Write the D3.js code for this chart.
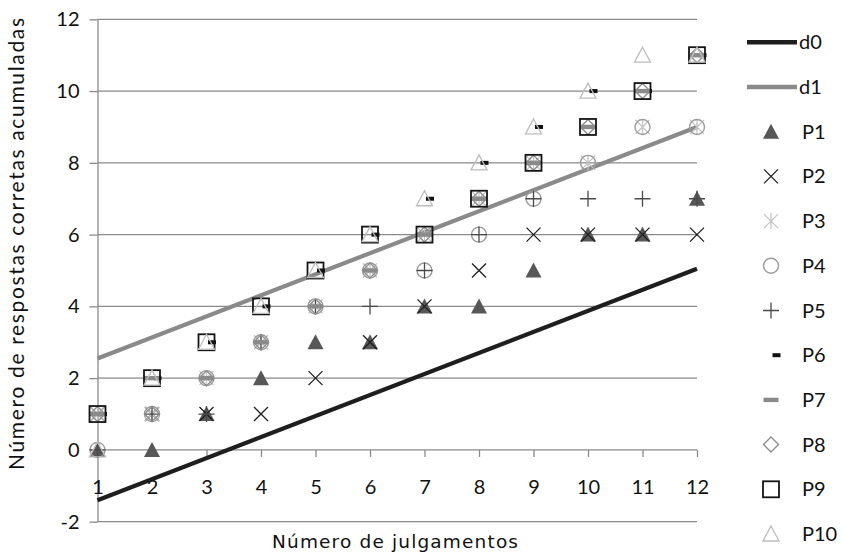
<!DOCTYPE html>
<html><head><meta charset="utf-8">
<script src="https://cdn.jsdelivr.net/npm/d3@7"></script>
<style>body{margin:0;background:#fff}svg{display:block}</style>
</head><body>
<svg id="c" width="842" height="554"></svg>
<script>
const trials = [1,2,3,4,5,6,7,8,9,10,11,12];
const yTicks = [-2,0,2,4,6,8,10,12];
const lineX = [1,12];
const d0 = [-1.4, 5.05];
const d1 = [2.55, 9.0];
const P1  = [0,0,1,2,3,3,4,4,5,6,6,7];
const P2  = [1,1,1,1,2,3,4,5,6,6,6,6];
const P3  = [1,1,2,3,4,5,6,7,8,8,9,9];
const P4  = [0,1,2,3,4,5,5,6,7,8,9,9];
const P5  = [0,1,1,3,4,4,5,6,7,7,7,7];
const P6  = [1,2,3,4,5,6,7,8,9,10,10,11];
const P7  = [1,2,2,3,4,5,6,7,8,9,10,11];
const P8  = [1,1,2,3,4,5,6,7,8,9,10,11];
const P9  = [1,2,3,4,5,6,6,7,8,9,10,11];
const P10 = [0,2,3,4,5,6,7,8,9,10,11,11];
const xTitle = "Número de julgamentos";
const yTitle = "Número de respostas corretas acumuladas";

const series = [
  {name:"P1", values:P1, shape:"triFill", color:"#575757"},
  {name:"P2", values:P2, shape:"x", color:"#1e1e1e"},
  {name:"P3", values:P3, shape:"star", color:"#c4c4c4"},
  {name:"P4", values:P4, shape:"circle", color:"#9c9c9c"},
  {name:"P5", values:P5, shape:"plus", color:"#4a4a4a"},
  {name:"P6", values:P6, shape:"dash", color:"#111"},
  {name:"P7", values:P7, shape:"bar", color:"#8a8a8a"},
  {name:"P8", values:P8, shape:"diamond", color:"#8e8e8e"},
  {name:"P9", values:P9, shape:"square", color:"#151515"},
  {name:"P10", values:P10, shape:"triOpen", color:"#bdbdbd"}
];
const lines = [
  {name:"d0", values:d0, color:"#1e1e1e"},
  {name:"d1", values:d1, color:"#8a8a8a"}
];

const svg = d3.select("#c");
const x = d3.scaleLinear().domain([1,12]).range([97.5, 697]);
const y = d3.scaleLinear().domain([-2,12]).range([521.7, 19.3]);
const txt = "#111";
const font = "Lato, 'Noto Sans', sans-serif";

// gridlines
svg.append("g").selectAll("line").data(yTicks).join("line")
  .attr("x1", x(1)).attr("x2", x(12))
  .attr("y1", d=>y(d)).attr("y2", d=>y(d))
  .attr("stroke", "#8a8a8a").attr("stroke-width", 1.3);

// y axis
const ya = svg.append("g").attr("transform", `translate(${x(1)},0)`)
  .call(d3.axisLeft(y).tickValues(yTicks).tickFormat(d=>String(d)).tickSize(8).tickPadding(10).tickSizeOuter(0));
ya.select(".domain").attr("stroke", "#8a8a8a").attr("stroke-width", 1.3);
ya.selectAll(".tick line").attr("stroke", "#8a8a8a").attr("stroke-width", 1.3);
ya.selectAll("text").attr("font-family", font).attr("font-size", 20).attr("fill", txt);

// x axis on y=0
const xa = svg.append("g").attr("transform", `translate(0,${y(0)})`)
  .call(d3.axisBottom(x).tickValues(trials).tickFormat(d=>String(d)).tickSize(7).tickPadding(23).tickSizeOuter(0));
xa.select(".domain").remove();
xa.selectAll(".tick line").attr("stroke", "#8a8a8a").attr("stroke-width", 1.3);
xa.selectAll("text").attr("font-family", font).attr("font-size", 20).attr("fill", txt);

// titles
svg.append("text").attr("x", 395).attr("y", 548).attr("text-anchor", "middle")
  .attr("font-family", "'DejaVu Sans', sans-serif").attr("font-size", 18.5).attr("fill", txt)
  .attr("textLength", 246).attr("lengthAdjust", "spacing").text(xTitle);
svg.append("text").attr("transform", "translate(24,244) rotate(-90)").attr("text-anchor", "middle")
  .attr("font-family", font).attr("font-size", 21).attr("fill", txt)
  .attr("textLength", 452).attr("lengthAdjust", "spacing").text(yTitle);

// reference lines
const lg = d3.line().x((d,i)=>x(lineX[i])).y(d=>y(d));
svg.append("g").selectAll("path").data(lines).join("path")
  .attr("d", d=>lg(d.values)).attr("fill", "none")
  .attr("stroke", d=>d.color).attr("stroke-width", 4.2);

function drawMarker(g, shape, color){
  const s = 8;
  switch(shape){
    case "triFill":
      g.append("path").attr("d", `M0,${-s}L${s},${s-1}L${-s},${s-1}Z`).attr("fill", color); break;
    case "triOpen":
      g.append("path").attr("d", `M0,${-s}L${s},${s-1}L${-s},${s-1}Z`).attr("fill", "none")
        .attr("stroke", color).attr("stroke-width", 1.3); break;
    case "x":
      g.append("path").attr("d", `M${-7},${-7}L7,7M7,${-7}L${-7},7`).attr("stroke", color).attr("stroke-width", 1.3); break;
    case "star":
      g.append("path").attr("d", `M${-7},${-7}L7,7M7,${-7}L${-7},7M0,${-8}L0,8`).attr("stroke", color).attr("stroke-width", 1.3); break;
    case "plus":
      g.append("path").attr("d", `M${-8},0L8,0M0,${-8}L0,8`).attr("stroke", color).attr("stroke-width", 1.3); break;
    case "circle":
      g.append("circle").attr("r", 7.5).attr("fill", "none").attr("stroke", color).attr("stroke-width", 1.4); break;
    case "dash":
      g.append("rect").attr("x", 1.5).attr("y", -2).attr("width", 8).attr("height", 4).attr("fill", color); break;
    case "bar":
      g.append("rect").attr("x", -7.5).attr("y", -2.2).attr("width", 15).attr("height", 4.4).attr("fill", color); break;
    case "diamond":
      g.append("path").attr("d", `M0,${-7.5}L7.5,0L0,7.5L${-7.5},0Z`).attr("fill", "none")
        .attr("stroke", color).attr("stroke-width", 1.4); break;
    case "square":
      g.append("rect").attr("x", -8).attr("y", -8).attr("width", 16).attr("height", 16).attr("fill", "none")
        .attr("stroke", color).attr("stroke-width", 1.8); break;
  }
}

// markers
series.forEach(sr=>{
  const g = svg.append("g");
  sr.values.forEach((v,i)=>{
    const m = g.append("g").attr("transform", `translate(${x(trials[i])},${y(v)})`);
    drawMarker(m, sr.shape, sr.color);
  });
});

// legend
const legY0 = 42.3, legStep = 44.7;
lines.forEach((l,i)=>{
  const yy = legY0 + i*legStep;
  svg.append("line").attr("x1", 747).attr("x2", 797).attr("y1", yy).attr("y2", yy)
    .attr("stroke", l.color).attr("stroke-width", 4.5);
  svg.append("text").attr("x", 799).attr("y", yy).attr("dy", "0.35em")
    .attr("font-family", font).attr("font-size", 20).attr("fill", txt).text(l.name);
});
series.forEach((sr,i)=>{
  const yy = legY0 + (i+2)*legStep;
  const m = svg.append("g").attr("transform", `translate(771,${yy})`);
  drawMarker(m, sr.shape, sr.color);
  svg.append("text").attr("x", 802).attr("y", yy).attr("dy", "0.35em")
    .attr("font-family", font).attr("font-size", 20).attr("fill", txt).text(sr.name);
});
</script>
</body></html>
